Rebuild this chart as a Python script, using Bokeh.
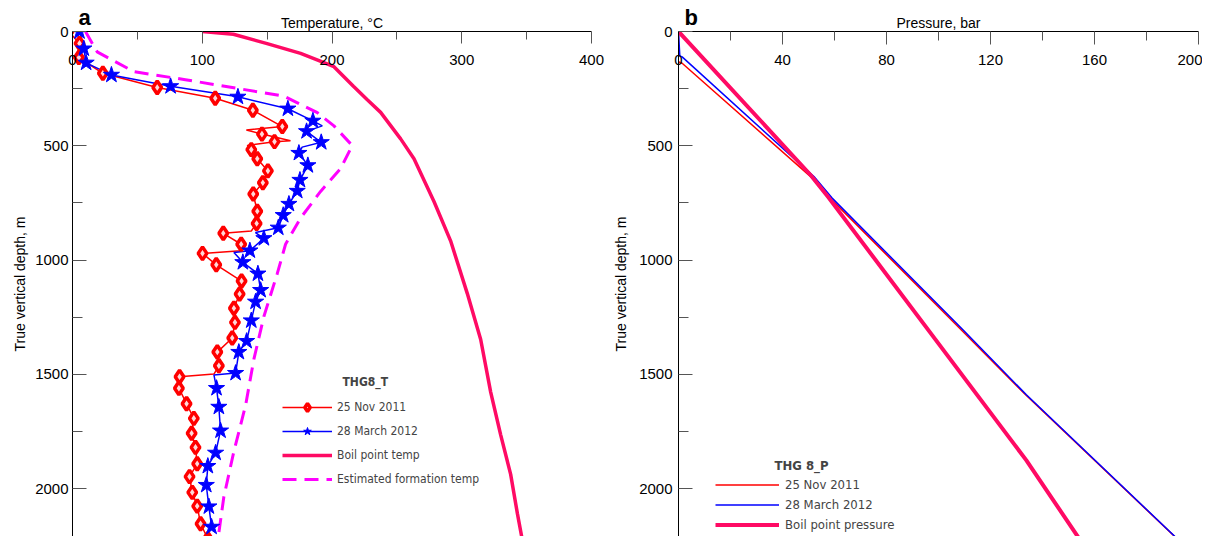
from bokeh.plotting import figure
from bokeh.models import Range1d, LinearAxis, Legend, LegendItem, Label, FixedTicker, Title
from bokeh.layouts import row
from bokeh.embed import file_html
from bokeh.resources import INLINE

# ---------------- data: panel a (temperature) ----------------
temp_ticks = [0, 100, 200, 300, 400]
temp_minor = [50, 150, 250, 350]
depth_ticks = [0, 500, 1000, 1500, 2000]
depth_minor = [250, 750, 1250, 1750]

red_T = [-3, 5.4, 4.9, 23.4, 65.3, 110, 139, 161.7, 146, 155.7, 137.8, 142.4, 150.6, 146.7,
         139.3, 142.4, 141.9, 116.2, 130, 100.2, 110.8, 130.3, 128.8, 124.4, 125.2, 123.1,
         111.6, 112.8, 82.5, 82, 87.9, 93.5, 91.8, 94.8, 96.1, 90.2, 92.3, 96.1, 98.7, 104.3]
red_d = [0, 52, 114, 183, 245, 292, 345, 416, 449, 482, 517, 557, 610, 662,
         711, 787, 840, 883, 931, 971, 1021, 1092, 1149, 1211, 1273, 1341,
         1403, 1463, 1511, 1561, 1629, 1693, 1758, 1820, 1892, 1948, 2017, 2077, 2154, 2220]
red_extra_T = [134, 168, 134.7, 137.8, 129.5, 109]
red_extra_d = [431, 478, 499, 873, 960, 1499]

blue_T = [5.4, 8.7, 10.5, 30, 75.6, 127.5, 166, 185.3, 180.4, 191.7, 174.5, 181.4, 175.3,
          173.2, 166.8, 162.4, 158.6, 147.5, 136.7, 131.3, 142.9, 145, 141.1, 137.8, 134.2,
          128.2, 125.7, 111, 112.8, 114.1, 110.3, 104.3, 103.1, 105.1, 107.2]
blue_d = [0, 75, 137, 190, 240, 286, 338, 391, 437, 485, 532, 586, 650,
          698, 755, 804, 859, 905, 959, 1010, 1060, 1132, 1183, 1265, 1355,
          1403, 1495, 1561, 1643, 1747, 1844, 1902, 1985, 2079, 2168]
blue_extra_T = [192.5, 177, 141, 124.4, 109]
blue_extra_d = [413, 506, 880, 967, 1503]

boil_T = [100, 124, 150, 175.8, 189, 201.5, 216.5, 227, 237.5, 252.9, 263.2, 278.6, 291.4,
          304.3, 314.6, 322.3, 330, 337.7, 342.9, 346.7]
boil_d = [0, 12, 53, 96, 125, 154, 240, 298, 354, 470, 557, 744, 916,
          1147, 1348, 1578, 1765, 1938, 2110, 2226]

form_T = [10, 19, 47.3, 87, 163, 188.7, 201.5, 215.6, 206.6, 191.2, 175.8, 164.2, 157.8,
          147.5, 139.8, 133.4, 124.4, 116.6, 112]
form_d = [0, 89, 176, 211, 283, 355, 413, 499, 600, 700, 816, 931, 1060,
          1247, 1434, 1636, 1837, 2038, 2226]

# ---------------- data: panel b (pressure) ----------------
pres_ticks = [0, 40, 80, 120, 160, 200]
pres_minor = [20, 60, 100, 140, 180]

redP_P = [0, -0.1, 1.4, 50.8, 58.2, 108.7, 133.5, 192.4]
redP_d = [0, 132, 139, 635, 728, 1305, 1590, 2227]
blueP_P = [0, 0.5, 1.4, 52.1, 59, 109.1, 133.8, 192.4]
blueP_d = [0, 107, 111, 635, 728, 1302, 1590, 2226]
boilP_P = [0, 50.8, 57.8, 97.7, 133.8, 155.1]
boilP_d = [0, 628, 728, 1331, 1877, 2236]

FONT = "Liberation Sans"
NARROW = "'Liberation Sans Narrow', 'DejaVu Sans Condensed', sans-serif"
RED = "#ff0000"
BLUE = "#0000ff"
PINK = "#ff0a64"
MAGENTA = "#ff00ff"
FRAME_H = 505
TOP = 31


def merge(d1, t1, d2, t2):
    pts = sorted(zip(d1 + d2, t1 + t2))
    return [p[1] for p in pts], [p[0] for p in pts]


def style_axes(p, xlabel, xticks, xminor, x_major_in, x_minor_in, y_standoff, y_label_standoff,
               letter):
    xa = LinearAxis(axis_label=xlabel,
                    ticker=FixedTicker(ticks=xticks, minor_ticks=xminor))
    ya = LinearAxis(axis_label="True vertical depth, m",
                    ticker=FixedTicker(ticks=depth_ticks, minor_ticks=depth_minor))
    for ax in (xa, ya):
        ax.axis_line_color = "black"
        ax.axis_line_width = 1
        ax.major_tick_line_color = "#555555"
        ax.minor_tick_line_color = "#555555"
        ax.major_tick_out = 0
        ax.minor_tick_out = 0
        ax.major_label_text_font = FONT
        ax.major_label_text_font_size = "15px"
        ax.major_label_text_color = "black"
        ax.axis_label_text_font = FONT
        ax.axis_label_text_font_size = "14px"
        ax.axis_label_text_font_style = "normal"
        ax.axis_label_text_color = "black"
    xa.major_tick_in = x_major_in
    xa.minor_tick_in = x_minor_in
    xa.major_label_standoff = -33
    xa.axis_label_standoff = 21
    ya.major_tick_in = 14
    ya.minor_tick_in = 10
    ya.major_label_standoff = y_standoff
    ya.axis_label_standoff = y_label_standoff
    p.add_layout(xa, "above")
    p.add_layout(ya, "left")
    p.add_layout(Title(text=letter, align="left", offset=6, standoff=-36,
                       text_font=FONT, text_font_size="22px", text_font_style="bold",
                       text_color="black"), "above")


def make_fig(fw, xr, left, right):
    p = figure(frame_width=fw, frame_height=FRAME_H, x_range=xr, y_range=Range1d(2210, 0),
               x_axis_location=None, y_axis_location=None, output_backend="svg",
               toolbar_location=None, min_border_left=left, min_border_right=right,
               min_border_top=TOP, min_border_bottom=0)
    p.outline_line_color = None
    for g in p.grid:
        g.visible = False
    p.background_fill_color = "white"
    p.border_fill_color = "white"
    return p


# ---------------- panel a ----------------
pa = make_fig(519, Range1d(0, 400), 72, 14)
style_axes(pa, "Temperature, °C", temp_ticks, temp_minor, 12, 8, 4, 4, "a")

r_boil = pa.line(boil_T, boil_d, line_color=PINK, line_width=3.5)
r_form = pa.line(form_T, form_d, line_color=MAGENTA, line_width=3, line_dash="14 8")
rl_T, rl_d = merge(red_d, red_T, red_extra_d, red_extra_T)
bl_T, bl_d = merge(blue_d, blue_T, blue_extra_d, blue_extra_T)
r_red_l = pa.line(rl_T, rl_d, line_color=RED, line_width=1.5)
r_blue_l = pa.line(bl_T, bl_d, line_color=BLUE, line_width=1.5)
r_red_m = pa.scatter(red_T, red_d, marker="diamond", size=13, fill_color="#ffd8d8",
                     line_color=RED, line_width=3.5)
r_blue_m = pa.scatter(blue_T, blue_d, marker="star", size=17, fill_color=BLUE,
                      line_color=BLUE, line_width=1)

leg_a = Legend(items=[
    LegendItem(label="25 Nov 2011", renderers=[r_red_l, r_red_m]),
    LegendItem(label="28 March 2012", renderers=[r_blue_l, r_blue_m]),
    LegendItem(label="Boil point temp", renderers=[r_boil]),
    LegendItem(label="Estimated formation temp", renderers=[r_form]),
], location=(210, 47), padding=0, margin=0, spacing=4, glyph_width=50, glyph_height=20,
    label_standoff=5, border_line_color=None, background_fill_alpha=0,
    label_text_font=NARROW, label_text_font_size="12px", label_height=20)
pa.add_layout(leg_a)
pa.add_layout(Label(x=270, y=148, x_units="screen", y_units="screen", text="THG8_T",
                    text_font=NARROW, text_font_size="12px", text_font_style="bold"))

# ---------------- panel b ----------------
pb = make_fig(520, Range1d(0, 200), 73, 4)
style_axes(pb, "Pressure, bar", pres_ticks, pres_minor, 13, 9, 6, 7, "b")

rb_red = pb.line(redP_P, redP_d, line_color=RED, line_width=1.5)
rb_blue = pb.line(blueP_P, blueP_d, line_color=BLUE, line_width=1.5)
rb_boil = pb.line(boilP_P, boilP_d, line_color=PINK, line_width=4)

leg_b = Legend(items=[
    LegendItem(label="25 Nov 2011", renderers=[rb_red]),
    LegendItem(label="28 March 2012", renderers=[rb_blue]),
    LegendItem(label="Boil point pressure", renderers=[rb_boil]),
], location=(37, 3), padding=0, margin=0, spacing=3, glyph_width=64, glyph_height=17,
    label_standoff=6, border_line_color=None, background_fill_alpha=0,
    label_text_font=NARROW, label_text_font_size="13px", label_height=17)
pb.add_layout(leg_b)
pb.add_layout(Label(x=96, y=64, x_units="screen", y_units="screen", text="THG 8_P",
                    text_font=NARROW, text_font_size="13px", text_font_style="bold"))

layout = row(pa, pb)
open("out.html", "w").write(file_html(layout, INLINE))
